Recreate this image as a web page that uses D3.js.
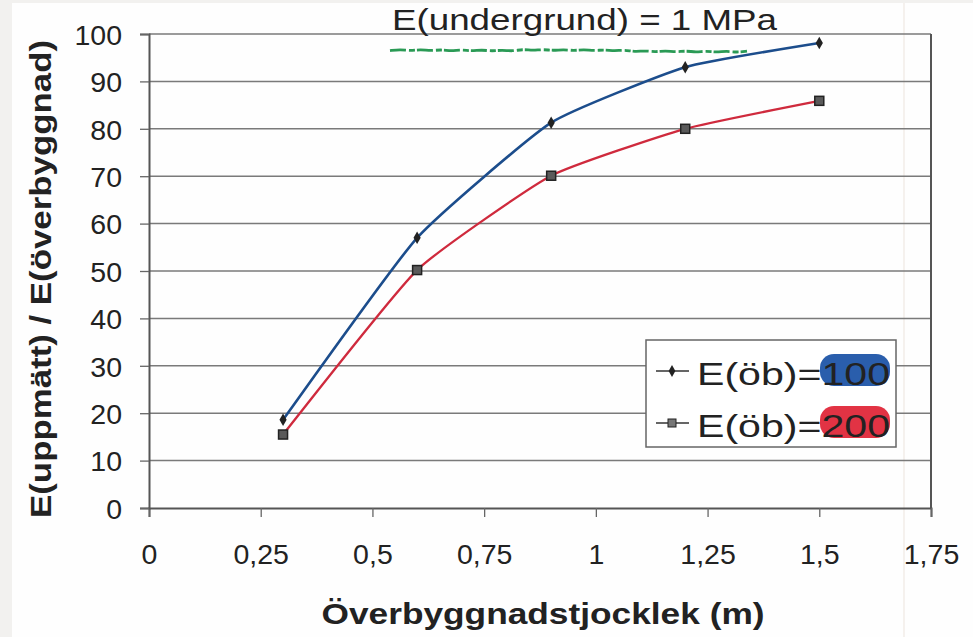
<!DOCTYPE html>
<meta charset='utf-8'>
<html>
  <head>
    <script src="https://d3js.org/d3.v7.min.js"></script>
    <style>
      body { margin: 0; background: #f2f1ef; }
      text { font-family: "Liberation Sans", Arial, sans-serif; fill: #222; }
    </style>
  </head>
  <body>
    <div id="chart"></div>
    <script>
        // data
        var thickness = [0.3, 0.6, 0.9, 1.2, 1.5]
        var eob100 = [18.6, 57.0, 81.3, 93.0, 98.1]
        var eob200 = [15.5, 50.2, 70.1, 80.0, 85.9]
        var seriesNames = ['E(öb)=', 'E(öb)=']
        var seriesValues = ['100', '200']
        var xTicks = [0, 0.25, 0.5, 0.75, 1, 1.25, 1.5, 1.75]
        var yTicks = [0, 10, 20, 30, 40, 50, 60, 70, 80, 90, 100]

        var W = 973, H = 637
        var fmt = function (d) { return String(d).replace('.', ',') }

        var svg = d3.select('#chart').append('svg')
            .attr('width', W)
            .attr('height', H)

        // scanned paper
        svg.append('rect').attr('x', 12).attr('y', 3).attr('width', W - 12).attr('height', H - 3).attr('fill', '#fefefe')
        svg.append('line').attr('x1', 904).attr('x2', 904).attr('y1', 3).attr('y2', H)
            .attr('stroke', '#efe8e2').attr('stroke-width', 1.2)

        // scales
        var xScale = d3.scaleLinear().domain([0, 1.75]).range([149, 931])
        var yScale = d3.scaleLinear().domain([0, 100]).range([508, 34])

        // gridlines
        svg.append('g').selectAll('line')
            .data(yTicks.filter(function (d) { return d > 0 }))
            .enter().append('line')
            .attr('x1', xScale(0)).attr('x2', xScale(1.75))
            .attr('y1', function (d) { return yScale(d) })
            .attr('y2', function (d) { return yScale(d) })
            .attr('stroke', '#7a7a7a').attr('stroke-width', 1.5)

        // right border of plot
        svg.append('line')
            .attr('x1', xScale(1.75)).attr('x2', xScale(1.75))
            .attr('y1', yScale(0)).attr('y2', yScale(100))
            .attr('stroke', '#555').attr('stroke-width', 2)

        // axes
        var xAxis = d3.axisBottom(xScale).tickValues(xTicks).tickSize(9).tickPadding(21).tickFormat(fmt)
        var yAxis = d3.axisLeft(yScale).tickValues(yTicks).tickSize(9).tickPadding(18)

        var gx = svg.append('g')
            .attr('transform', 'translate(0,' + yScale(0) + ')')
            .call(xAxis)
        var gy = svg.append('g')
            .attr('transform', 'translate(' + xScale(0) + ',0)')
            .call(yAxis)
        ;[gx, gy].forEach(function (g) {
            g.select('.domain').attr('stroke', '#555').attr('stroke-width', 2)
            g.selectAll('.tick line').attr('stroke', '#666').attr('stroke-width', 1.3)
            g.selectAll('.tick text').style('font-family', '"Liberation Sans", Arial, sans-serif')
                .style('font-size', '28.5px').attr('fill', '#222')
        })
        gx.selectAll('.tick text').attr('dy', '0.9em')
        gy.selectAll('.tick text').attr('dy', '0.36em')

        // lines
        var line = d3.line()
            .x(function (d) { return xScale(d[0]) })
            .y(function (d) { return yScale(d[1]) })
            .curve(d3.curveCardinal.tension(0.55))

        var s100 = thickness.map(function (t, i) { return [t, eob100[i]] })
        var s200 = thickness.map(function (t, i) { return [t, eob200[i]] })

        svg.append('path').datum(s200).attr('d', line)
            .attr('fill', 'none').attr('stroke', '#cf2a3d').attr('stroke-width', 2.3)
        svg.append('path').datum(s100).attr('d', line)
            .attr('fill', 'none').attr('stroke', '#1c4d8c').attr('stroke-width', 2.6)

        // markers
        svg.append('g').selectAll('path')
            .data(s100).enter().append('path')
            .attr('d', d3.symbol().type(d3.symbolDiamond).size(45))
            .attr('transform', function (d) { return 'translate(' + xScale(d[0]) + ',' + yScale(d[1]) + ')' })
            .attr('fill', '#222')
        svg.append('g').selectAll('rect')
            .data(s200).enter().append('rect')
            .attr('x', function (d) { return xScale(d[0]) - 4.5 })
            .attr('y', function (d) { return yScale(d[1]) - 4.5 })
            .attr('width', 9).attr('height', 9)
            .attr('fill', '#5a5a5a').attr('stroke', '#222').attr('stroke-width', 1.5)

        // title + green underline
        svg.append('text')
            .attr('x', 392).attr('y', 30)
            .attr('textLength', 385).attr('lengthAdjust', 'spacingAndGlyphs')
            .style('font-size', '29px')
            .text('E(undergrund) = 1 MPa')
        var wave = d3.range(0, 36).map(function (i) { return [390 + i * 10.2, 50 + (i % 2 ? -0.7 : 0.7) + (i / 35) * 1.8 - (i > 12 && i < 24 ? 0.8 : 0)] })
        svg.append('path').attr('d', d3.line().curve(d3.curveBasis)(wave))
            .attr('fill', 'none').attr('stroke', '#2a9a55').attr('stroke-width', 2.8)
            .attr('stroke-dasharray', '16,3,6,2')

        // axis titles
        svg.append('text')
            .attr('transform', 'translate(51,' + 279 + ') rotate(-90)')
            .attr('text-anchor', 'middle')
            .attr('textLength', 478).attr('lengthAdjust', 'spacingAndGlyphs')
            .style('font-size', '30px').style('font-weight', 'bold')
            .text('E(uppmätt) / E(överbyggnad)')
        svg.append('text')
            .attr('x', 543).attr('y', 624)
            .attr('text-anchor', 'middle')
            .attr('textLength', 443).attr('lengthAdjust', 'spacingAndGlyphs')
            .style('font-size', '30px').style('font-weight', 'bold')
            .text('Överbyggnadstjocklek (m)')

        // legend
        var lg = svg.append('g')
        lg.append('rect').attr('x', 646).attr('y', 340).attr('width', 250).attr('height', 107)
            .attr('fill', '#fff').attr('stroke', '#666').attr('stroke-width', 1.5)
        var rows = [
            { name: seriesNames[0], value: seriesValues[0], color: '#1f55a8', y: 371, mark: 'diamond' },
            { name: seriesNames[1], value: seriesValues[1], color: '#e0283a', y: 423, mark: 'square' }
        ]
        rows.forEach(function (r) {
            lg.append('line').attr('x1', 656).attr('x2', 689).attr('y1', r.y).attr('y2', r.y)
                .attr('stroke', '#333').attr('stroke-width', 1.5)
            if (r.mark === 'diamond') {
                lg.append('path').attr('d', d3.symbol().type(d3.symbolDiamond).size(40))
                    .attr('transform', 'translate(672,' + r.y + ')').attr('fill', '#222')
            } else {
                lg.append('rect').attr('x', 668).attr('y', r.y - 4).attr('width', 8).attr('height', 8)
                    .attr('fill', '#777').attr('stroke', '#222')
            }
            // scribble behind the number
            lg.append('rect').attr('x', 820).attr('y', r.y - 17).attr('width', 70).attr('height', 32)
                .attr('rx', 14).attr('fill', r.color).attr('opacity', 0.95)
            lg.append('text').attr('x', 697).attr('y', r.y + 14)
                .attr('textLength', 193).attr('lengthAdjust', 'spacingAndGlyphs')
                .style('font-size', '32px')
                .text(r.name + r.value)
        })
    </script>
  </body>
</html>
